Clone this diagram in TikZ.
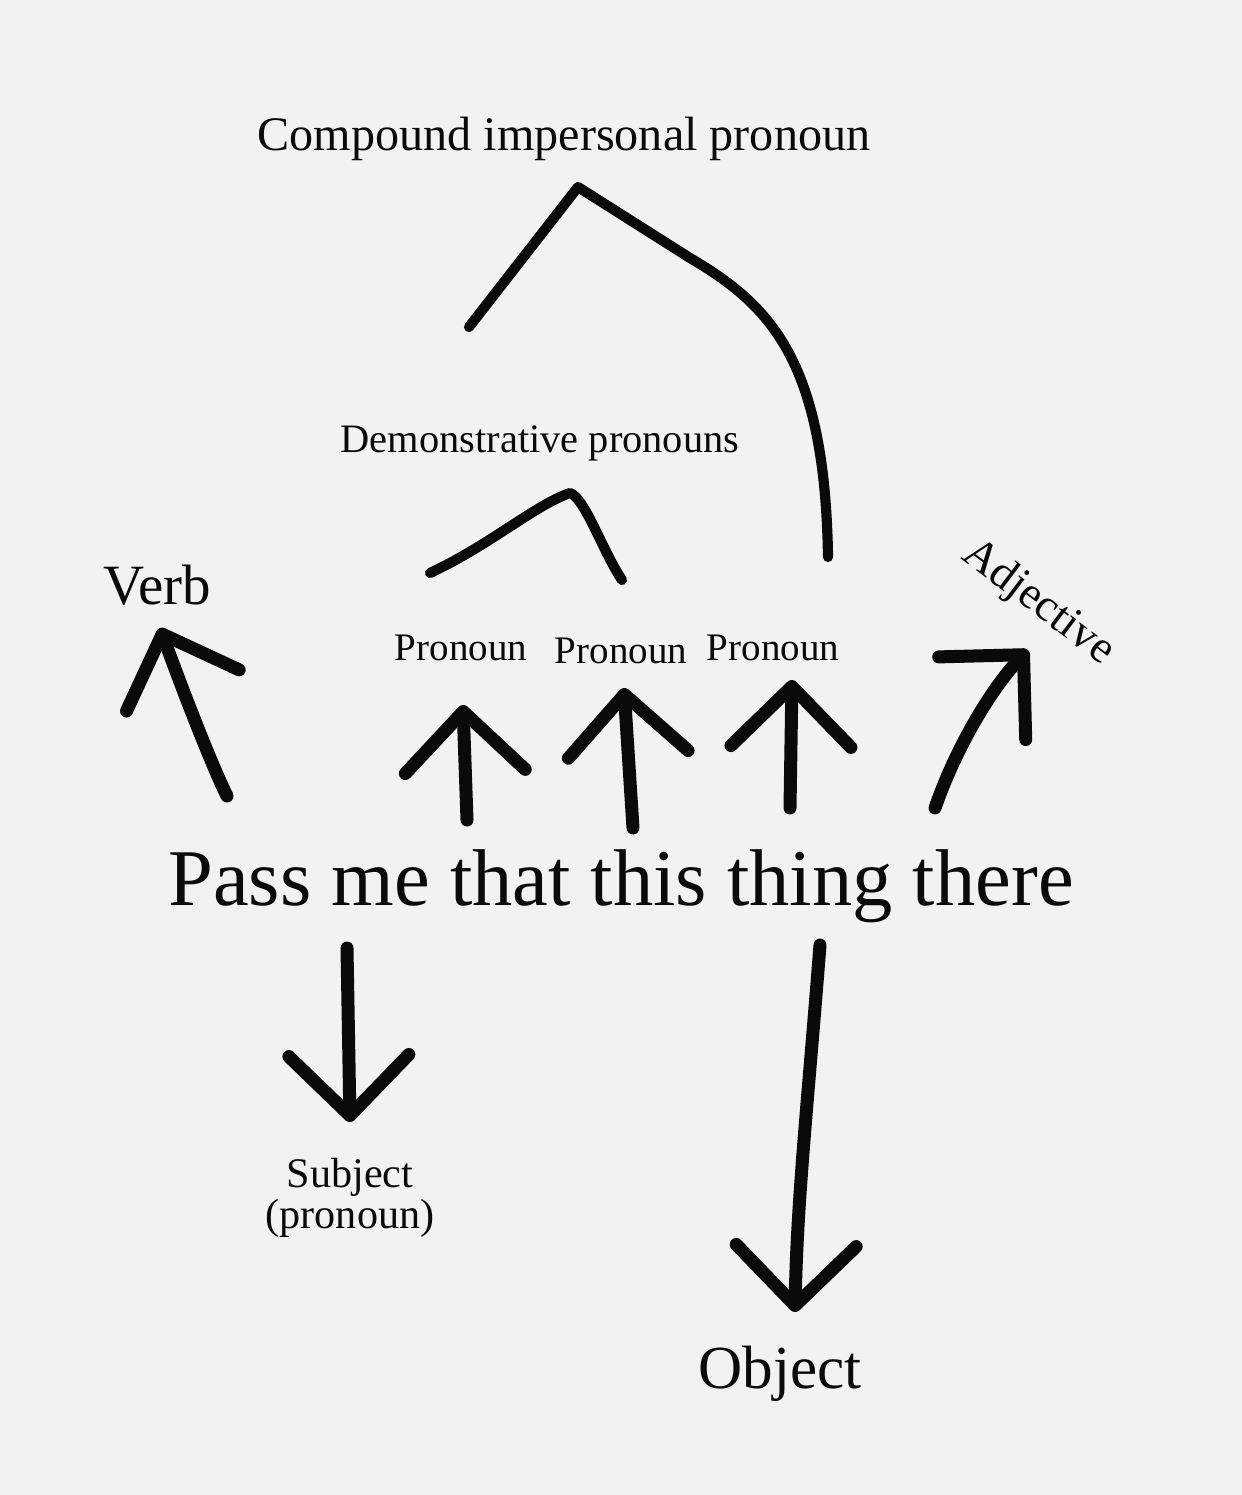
\documentclass[tikz,border=0pt]{standalone}
\usepackage{fontspec}
\setmainfont{Liberation Serif}
\usetikzlibrary{arrows.meta,positioning}
\definecolor{paper}{HTML}{F2F2F2}
\definecolor{ink}{HTML}{0A0A0A}

\begin{document}
\begin{tikzpicture}[
    word/.style={inner sep=0pt, anchor=base, text=ink, align=center},
    pointer/.style={draw=ink, line width=3.7pt, line cap=round, line join=round, -{Straight Barb[length=0.6cm, width=1.2cm, round]}},
    bracket/.style={draw=ink, line width=2.9pt, line cap=round, line join=round}
]
% Paper
\fill[paper] (0,0) rectangle (12.42,-14.95);

% Sentence
\node[word, font=\fontsize{22.9}{27}\selectfont] (sentence) at (6.21,-9.05) {Pass me that this thing there};

% Labels
\node[word, font=\fontsize{13.7}{16}\selectfont] (compound) at (5.64,-1.50) {Compound impersonal pronoun};
\node[word, font=\fontsize{11.5}{14}\selectfont] (demo) at (5.40,-4.52) {Demonstrative pronouns};
\node[word, font=\fontsize{16.2}{19}\selectfont] (verb) at (1.57,-6.04) {Verb};
\node[word, font=\fontsize{11.1}{13}\selectfont] (pro1) at (4.61,-6.60) {Pronoun};
\node[word, font=\fontsize{11.1}{13}\selectfont] (pro2) at (6.21,-6.63) {Pronoun};
\node[word, font=\fontsize{11.1}{13}\selectfont] (pro3) at (7.73,-6.60) {Pronoun};
\node[inner sep=0pt, text=ink, rotate=-37, font=\fontsize{13}{16}\selectfont] (adj) at (10.38,-6.03) {Adjective};
\node[word, font=\fontsize{12}{11.4}\selectfont] (subject) at (3.50,-12.28) {Subject\\(pronoun)};
\node[word, font=\fontsize{17.4}{20}\selectfont] (object) at (7.80,-13.88) {Object};

% Arrow ends
\coordinate (verbtail) at (2.27,-7.96);
\coordinate (verbtip) at (1.60,-6.28);
\coordinate (pro1tail) at (4.67,-8.20);
\coordinate (pro1tip) at (4.63,-7.05);
\coordinate (pro2tail) at (6.33,-8.28);
\coordinate (pro2tip) at (6.24,-6.88);
\coordinate (pro3tail) at (7.90,-8.08);
\coordinate (pro3tip) at (7.92,-6.80);
\coordinate (adjtail) at (9.35,-8.08);
\coordinate (adjtip) at (10.28,-6.50);
\coordinate (subjtail) at (3.47,-9.48);
\coordinate (subjtip) at (3.50,-11.22);
\coordinate (objtail) at (8.20,-9.45);
\coordinate (objtip) at (7.95,-13.12);

% Arrows
\draw[pointer] (verbtail) .. controls (2.15,-7.72) and (1.90,-7.10) .. (verbtip);
\draw[pointer] (pro1tail) -- (pro1tip);
\draw[pointer] (pro2tail) -- (pro2tip);
\draw[pointer] (pro3tail) -- (pro3tip);
\draw[pointer] (adjtail) .. controls (9.55,-7.50) and (9.90,-6.90) .. (adjtip);
\draw[pointer] (subjtail) -- (subjtip);
\draw[pointer] (objtail) .. controls (8.08,-11.00) and (7.97,-12.00) .. (objtip);

% Brackets
\coordinate (demoL) at (4.30,-5.73);
\coordinate (demoTop) at (5.70,-4.93);
\coordinate (demoR) at (6.22,-5.80);
\coordinate (compL) at (4.69,-3.27);
\coordinate (compTop) at (5.78,-1.87);
\coordinate (compR) at (8.28,-5.57);
\draw[bracket] (demoL) .. controls (4.90,-5.45) and (5.35,-5.05) .. (demoTop)
    .. controls (5.85,-4.98) and (6.02,-5.50) .. (demoR);
\draw[bracket] (compL) -- (compTop) -- (6.90,-2.58)
    .. controls (7.70,-3.05) and (8.25,-3.60) .. (compR);
\end{tikzpicture}
\end{document}
